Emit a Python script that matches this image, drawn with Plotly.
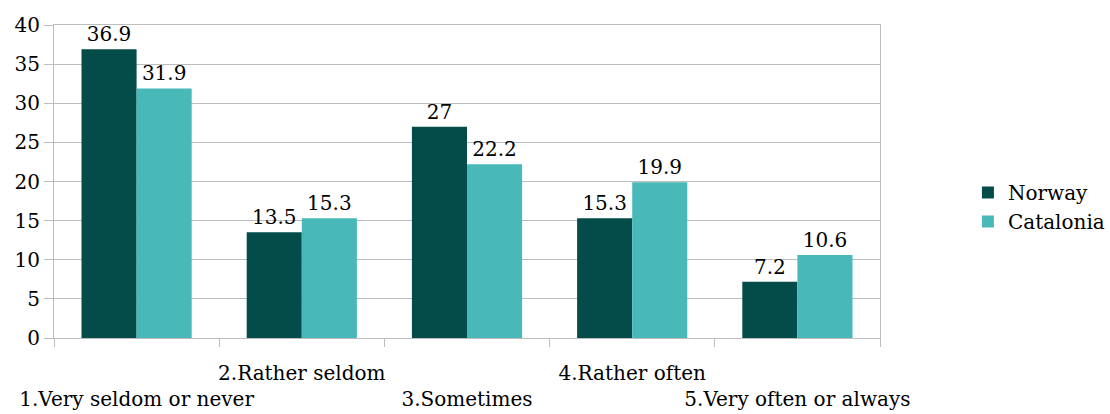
import plotly.graph_objects as go

categories = ["1.Very seldom or never", "2.Rather seldom", "3.Sometimes",
              "4.Rather often", "5.Very often or always"]
norway = [36.9, 13.5, 27, 15.3, 7.2]
catalonia = [31.9, 15.3, 22.2, 19.9, 10.6]
y_ticks = [0, 5, 10, 15, 20, 25, 30, 35, 40]

# staggered category labels: odd-numbered ones drop to a second line
tick_text = [("<br>" + c) if i % 2 == 0 else c for i, c in enumerate(categories)]

FONT = "DejaVu Serif"
SIZE = 20
GRID = "#bdbdbd"

fig = go.Figure()
fig.add_trace(go.Bar(name="Norway", x=categories, y=norway,
                     marker=dict(color="#034c4a", line=dict(width=0)),
                     text=norway, texttemplate="%{y}", textposition="outside",
                     textfont=dict(size=SIZE, color="black", family=FONT),
                     cliponaxis=False))
fig.add_trace(go.Bar(name="Catalonia", x=categories, y=catalonia,
                     marker=dict(color="#48b9b8", line=dict(width=0)),
                     text=catalonia, texttemplate="%{y}", textposition="outside",
                     textfont=dict(size=SIZE, color="black", family=FONT),
                     cliponaxis=False))

fig.update_layout(
    width=1110, height=414,
    margin=dict(l=54, r=230, t=25, b=76),
    paper_bgcolor="white", plot_bgcolor="white",
    barmode="group", bargap=0.333, bargroupgap=0,
    font=dict(family=FONT, size=SIZE, color="black"),
    legend=dict(xref="container", yref="container", x=0.872, y=0.5,
                xanchor="left", yanchor="middle",
                font=dict(size=SIZE, family=FONT), tracegroupgap=0,
                itemwidth=30),
    showlegend=True,
)
fig.update_xaxes(
    tickvals=categories, ticktext=tick_text,
    ticks="outside", tickson="boundaries", ticklen=8, tickcolor=GRID,
    showline=True, linecolor=GRID, linewidth=1, mirror=True,
    showgrid=False, tickfont=dict(size=SIZE, family=FONT),
    tickangle=0, automargin=False, ticklabelstandoff=17,
)
fig.update_yaxes(
    range=[0, 40], tickvals=y_ticks,
    ticks="outside", ticklen=9, tickcolor=GRID,
    showline=True, linecolor=GRID, linewidth=1, mirror=True,
    showgrid=True, gridcolor=GRID, gridwidth=1, zeroline=False,
    tickfont=dict(size=SIZE, family=FONT), automargin=False,
)

fig.write_html("out.html")
